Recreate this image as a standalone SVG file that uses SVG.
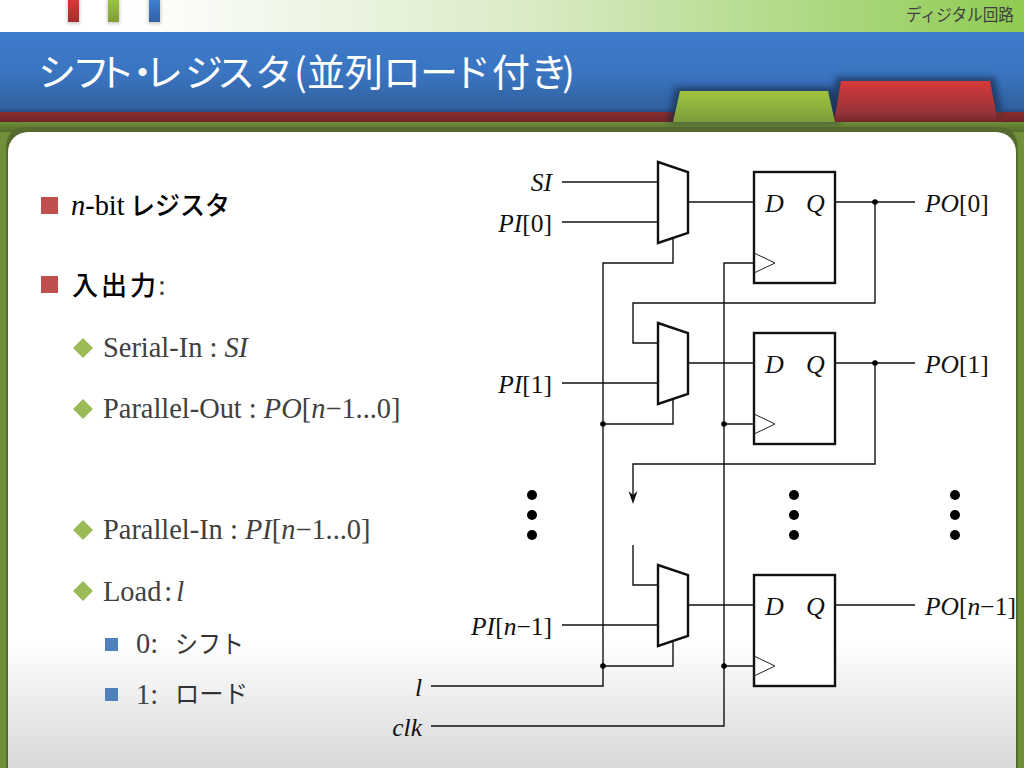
<svg xmlns="http://www.w3.org/2000/svg" width="1024" height="768" viewBox="0 0 1024 768">
<style>
.w{fill:none;stroke:#111;stroke-width:1.4}
.b{fill:#fff;stroke:#111;stroke-width:2.4}
.c{fill:none;stroke:#222;stroke-width:1}
.j{fill:#000}
.d{fill:#000}
text{font-family:"Liberation Serif","Noto Sans CJK JP",serif}
.l{font-size:25.500px;text-anchor:end;fill:#111}
.i{font-style:italic}
.f{font-size:26px;font-style:italic;fill:#111}
.p{font-size:25.500px;fill:#111}
.j1{font-size:28.400px;fill:#000}
.s{font-size:28.400px;fill:#404040}
.cj{font-family:"Noto Sans CJK JP","Noto Sans",sans-serif;font-weight:500}
</style>
<defs>
<linearGradient id="top" x1="0" x2="1" y1="0" y2="0"><stop offset="0.12" stop-color="#fff"/><stop offset="0.5" stop-color="#dcecc9"/><stop offset="1" stop-color="#8fcb52"/></linearGradient>
<linearGradient id="blue" x1="0" x2="0" y1="0" y2="1"><stop offset="0" stop-color="#3d7bcc"/><stop offset="0.55" stop-color="#3a74bf"/><stop offset="0.95" stop-color="#30609f"/><stop offset="1" stop-color="#284f80"/></linearGradient>
<linearGradient id="red" x1="0" x2="0" y1="0" y2="1"><stop offset="0" stop-color="#8a2e2e"/><stop offset="1" stop-color="#6d2528"/></linearGradient>
<linearGradient id="fr" x1="0" x2="0" y1="0" y2="1"><stop offset="0" stop-color="#6f8f38"/><stop offset="1" stop-color="#566b2e"/></linearGradient>
<linearGradient id="panel" x1="0" x2="0" y1="0" y2="1"><stop offset="0.77" stop-color="#fff"/><stop offset="1" stop-color="#d1d1d1"/></linearGradient>
<linearGradient id="gt" x1="0" x2="0" y1="0" y2="1"><stop offset="0" stop-color="#9fc53f"/><stop offset="1" stop-color="#7d9c3c"/></linearGradient>
<linearGradient id="rt" x1="0" x2="0" y1="0" y2="1"><stop offset="0" stop-color="#d83a3a"/><stop offset="0.8" stop-color="#93333a"/><stop offset="1" stop-color="#70262a"/></linearGradient>
<linearGradient id="t1" x1="0" x2="0" y1="0" y2="1"><stop offset="0" stop-color="#d63a36"/><stop offset="1" stop-color="#a52f2c"/></linearGradient>
<linearGradient id="t2" x1="0" x2="0" y1="0" y2="1"><stop offset="0" stop-color="#9cc43f"/><stop offset="1" stop-color="#7e9c38"/></linearGradient>
<linearGradient id="t3" x1="0" x2="0" y1="0" y2="1"><stop offset="0" stop-color="#3f7fd0"/><stop offset="1" stop-color="#2f62a6"/></linearGradient>
<filter id="sh" x="-20%" y="-30%" width="140%" height="160%"><feGaussianBlur stdDeviation="3"/></filter>
<filter id="sm" x="-50%" y="-30%" width="200%" height="160%"><feGaussianBlur stdDeviation="1.500"/></filter>
</defs>

<g id="background">
<rect width="1024" height="32" fill="url(#top)"/>
<rect x="67" y="0" width="13" height="24" fill="#777" opacity=".35" filter="url(#sm)"/>
<rect x="107" y="0" width="13" height="24" fill="#777" opacity=".35" filter="url(#sm)"/>
<rect x="148" y="0" width="13" height="24" fill="#777" opacity=".35" filter="url(#sm)"/>
<rect x="68" y="0" width="11" height="22" fill="url(#t1)"/>
<rect x="108" y="0" width="11" height="22" fill="url(#t2)"/>
<rect x="149" y="0" width="11" height="22" fill="url(#t3)"/>
<rect y="32" width="1024" height="80" fill="url(#blue)"/>
<rect y="112" width="1024" height="10" fill="url(#red)"/>
<rect y="122" width="1024" height="646" fill="#6f8f38"/>
<rect y="122" width="1024" height="10" fill="url(#fr)"/>
<path d="M6 150Q6 127 26 127H998Q1018 127 1018 150V768H6Z" fill="#566b2e"/>
<rect x="8" y="132" width="1008" height="660" rx="20" fill="url(#panel)"/>
<path d="M668 122L675 87H833L841 122Z" fill="#14294a" opacity=".65" filter="url(#sh)"/>
<path d="M829 120L836 77H995L1002 112H829Z" fill="#14294a" opacity=".65" filter="url(#sh)"/>
<path d="M834 122L841 81H990L996 112V122Z" fill="url(#rt)"/>
<path d="M673 122L680 91H828L835 122Z" fill="url(#gt)"/>
</g>

<g id="header-text">
<text class="cj" x="1014" y="21" text-anchor="end" font-size="17" fill="#404040" textLength="108" lengthAdjust="spacingAndGlyphs" style="font-weight:400">ディジタル回路</text>
<text class="cj" x="38 72 97 123.500 145 185 217 255 294 307 345 383 420 453 492 530 562" y="86" font-size="38" fill="#fff" style="font-weight:400">シフト・レジスタ(並列ロード付き)</text>
</g>

<g id="bullets">
<rect x="41" y="197" width="17" height="17" fill="#c0504d"/>
<rect x="41" y="276" width="17" height="17" fill="#c0504d"/>
<path d="M83 338l10 10l-10 10l-10-10Z" fill="#9bbb59"/>
<path d="M83 399l10 10l-10 10l-10-10Z" fill="#9bbb59"/>
<path d="M83 520l10 10l-10 10l-10-10Z" fill="#9bbb59"/>
<path d="M83 581l10 10l-10 10l-10-10Z" fill="#9bbb59"/>
<rect x="105" y="638" width="13" height="13" fill="#4f81bd"/>
<rect x="105" y="688" width="13" height="13" fill="#4f81bd"/>
</g>

<g id="body-text">
<text x="71" y="215" class="j1"><tspan class="i">n</tspan>-bit</text>
<text x="130" y="215" class="j1 cj" style="font-size:26px" textLength="100" lengthAdjust="spacingAndGlyphs">レジスタ</text>
<text x="72" y="295" class="j1 cj" style="font-size:26px" textLength="84">入出力</text>
<text x="158" y="295" class="s">:</text>
<text x="103" y="357" class="s">Serial-In : <tspan class="i">SI</tspan></text>
<text x="103" y="418" class="s">Parallel-Out : <tspan class="i">PO</tspan>[<tspan class="i">n</tspan>−1...0]</text>
<text x="103" y="539" class="s">Parallel-In : <tspan class="i">PI</tspan>[<tspan class="i">n</tspan>−1...0]</text>
<text x="103" y="601" class="s">Load<tspan dx="3">:</tspan><tspan class="i" dx="4">l</tspan></text>
<text x="136" y="653" class="s">0:</text>
<text x="175" y="653" class="s cj" style="font-size:25px;font-weight:400;fill:#333" textLength="69" lengthAdjust="spacingAndGlyphs">シフト</text>
<text x="136" y="704" class="s">1:</text>
<text x="175" y="703" class="s cj" style="font-size:25px;font-weight:400;fill:#333" textLength="73" lengthAdjust="spacingAndGlyphs">ロード</text>
</g>

<g id="connectors">
<path class="w" d="M562 182H658M562 222H658M688 202H754"/>
<path class="w" d="M673 238V263H603V686H431"/>
<path class="w" d="M431 726H724V263H754"/>
<path class="w" d="M835 202H915M875 202V303H633V343H658"/>
<path class="w" d="M562 383H658M688 363H754M673 399V424H603M724 424H754"/>
<path class="w" d="M835 363H915M875 363V464H633V497"/>
<path d="M633 504L628.500 491L633 495L637.500 491Z" fill="#111"/>
<path class="w" d="M633 545V585H658M562 625H658M688 605H754M673 641V666H603M724 666H754M835 605H915"/>
<circle class="j" cx="603" cy="424" r="2.800"/>
<circle class="j" cx="724" cy="424" r="2.800"/>
<circle class="j" cx="875" cy="202" r="2.800"/>
<circle class="j" cx="875" cy="363" r="2.800"/>
<circle class="j" cx="603" cy="666" r="2.800"/>
<circle class="j" cx="724" cy="666" r="2.800"/>
</g>

<g id="mux0"><path class="b" d="M658 162L688 172V233L658 243Z"/></g>
<g id="mux1"><path class="b" d="M658 323L688 333V394L658 404Z"/></g>
<g id="muxn"><path class="b" d="M658 565L688 575V636L658 646Z"/></g>

<g id="ff0"><rect class="b" x="754" y="172" width="81" height="111"/><path class="c" d="M754 253L775 263L754 273"/><text class="f" x="765" y="212">D</text><text class="f" x="806" y="212">Q</text></g>
<g id="ff1"><rect class="b" x="754" y="333" width="81" height="111"/><path class="c" d="M754 414L775 424L754 434"/><text class="f" x="765" y="373">D</text><text class="f" x="806" y="373">Q</text></g>
<g id="ffn"><rect class="b" x="754" y="575" width="81" height="111"/><path class="c" d="M754 656L775 666L754 676"/><text class="f" x="765" y="615">D</text><text class="f" x="806" y="615">Q</text></g>

<g id="labels">
<text class="l" x="552" y="191"><tspan class="i">SI</tspan></text>
<text class="l" x="552" y="232"><tspan class="i">PI</tspan>[0]</text>
<text class="l" x="552" y="393"><tspan class="i">PI</tspan>[1]</text>
<text class="l" x="552" y="635"><tspan class="i">PI</tspan>[<tspan class="i">n</tspan>−1]</text>
<text class="l" x="422" y="696"><tspan class="i">l</tspan></text>
<text class="l" x="422" y="736"><tspan class="i">clk</tspan></text>
<text class="p" x="925" y="212"><tspan class="i">PO</tspan>[0]</text>
<text class="p" x="925" y="373"><tspan class="i">PO</tspan>[1]</text>
<text class="p" x="925" y="615"><tspan class="i">PO</tspan>[<tspan class="i">n</tspan>−1]</text>
</g>

<g id="ellipsis">
<circle class="d" cx="532" cy="495" r="5"/><circle class="d" cx="532" cy="515" r="5"/><circle class="d" cx="532" cy="535" r="5"/>
<circle class="d" cx="794" cy="495" r="5"/><circle class="d" cx="794" cy="515" r="5"/><circle class="d" cx="794" cy="535" r="5"/>
<circle class="d" cx="955" cy="495" r="5"/><circle class="d" cx="955" cy="515" r="5"/><circle class="d" cx="955" cy="535" r="5"/>
</g>
</svg>
